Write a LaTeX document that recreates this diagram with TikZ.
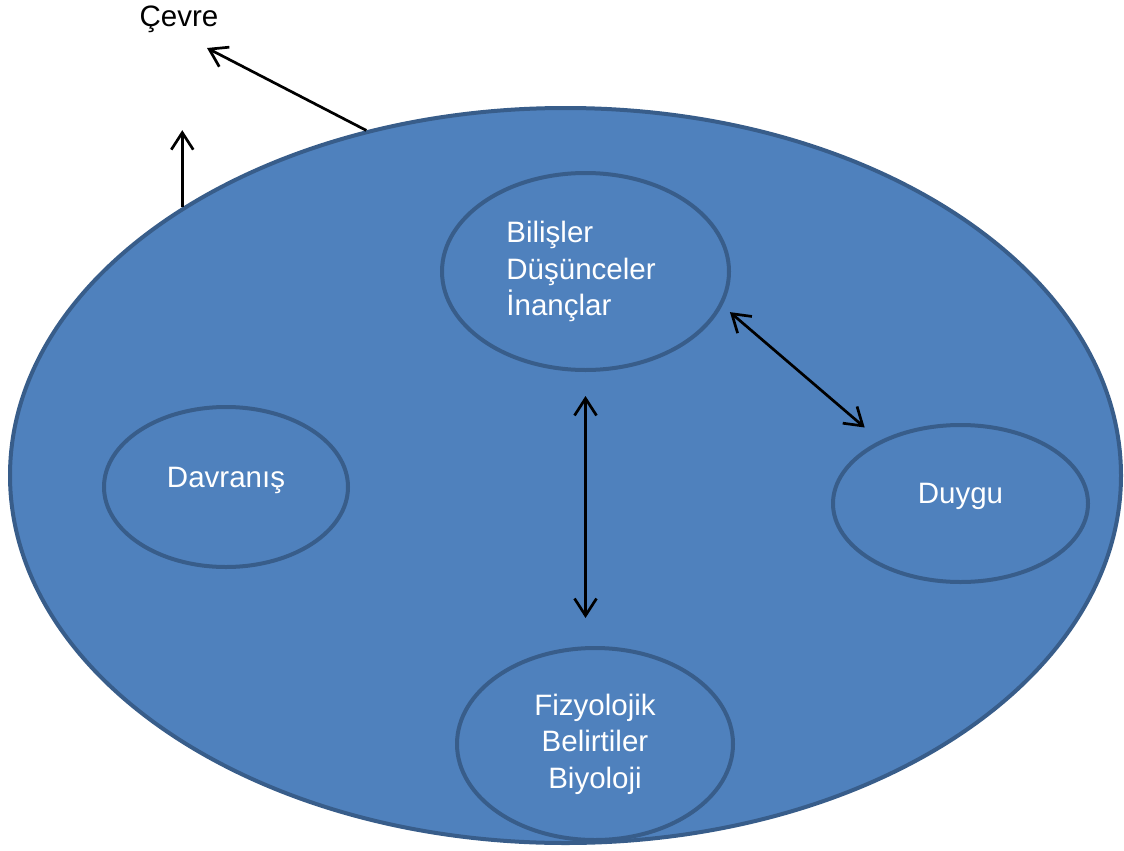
\documentclass[tikz,border=0pt]{standalone}
\usepackage{fontspec}
\setmainfont{Liberation Sans}
\usepackage{xcolor}
\usetikzlibrary{shapes.geometric,arrows.meta}

\definecolor{blobfill}{HTML}{4F81BD}
\definecolor{blobline}{HTML}{385D8A}

\tikzset{
	blob/.style={ellipse, draw=blobline, fill=blobfill, line width=4pt, inner sep=0pt},
	lbl/.style={text=white, font=\fontsize{29.5}{36.5}\selectfont, align=center},
	arr/.style={line width=2.7pt, -{Straight Barb[length=17pt,width=22pt]}},
	dbl/.style={line width=2.7pt, {Straight Barb[length=17pt,width=22pt]}-{Straight Barb[length=17pt,width=22pt]}}
}

\begin{document}
\begin{tikzpicture}[x=1pt,y=-1pt]
\useasboundingbox (0,0) rectangle (1124,851);

\node[blob, minimum width=1111pt, minimum height=735pt] (big) at (565.5,475.5) {};

\node[blob, minimum width=287pt, minimum height=197pt] (bil) at (585.5,271.5) {};
\node[blob, minimum width=244pt, minimum height=160pt] (dav) at (226,487) {};
\node[blob, minimum width=255pt, minimum height=157pt] (duy) at (960.5,503.5) {};
\node[blob, minimum width=276pt, minimum height=192pt] (fiz) at (595,744) {};

\node[lbl, align=left] (bilt) at ([xshift=-4.5pt]bil.center) {Bilişler\\Düşünceler\\İnançlar};
\node[lbl, anchor=base] (davt) at (dav.center) {Davranış};
\node[lbl, anchor=base] (duyt) at (duy.center) {Duygu};
\node[lbl] (fizt) at (fiz.center) {Fizyolojik\\Belirtiler\\Biyoloji};

\node[font=\fontsize{29.5}{36.5}\selectfont, anchor=base] (cev) at (179,27) {Çevre};

% dis ok
\coordinate (cevtip) at ([shift={(28pt,-21pt)}]cev.base);
\coordinate (uptip) at ([yshift=77pt]big.145.3);
\draw[arr] (big.120) -- (cevtip);
\draw[arr] (big.145.3) -- (uptip);

% ic oklar
\draw[dbl, shorten <=24pt, shorten >=28pt] (bil.south) -- (bil.south |- fiz.north);
\draw[dbl, shorten <=10pt, shorten >=20pt] (bil.-14) -- (duy.142);

\end{tikzpicture}
\end{document}
